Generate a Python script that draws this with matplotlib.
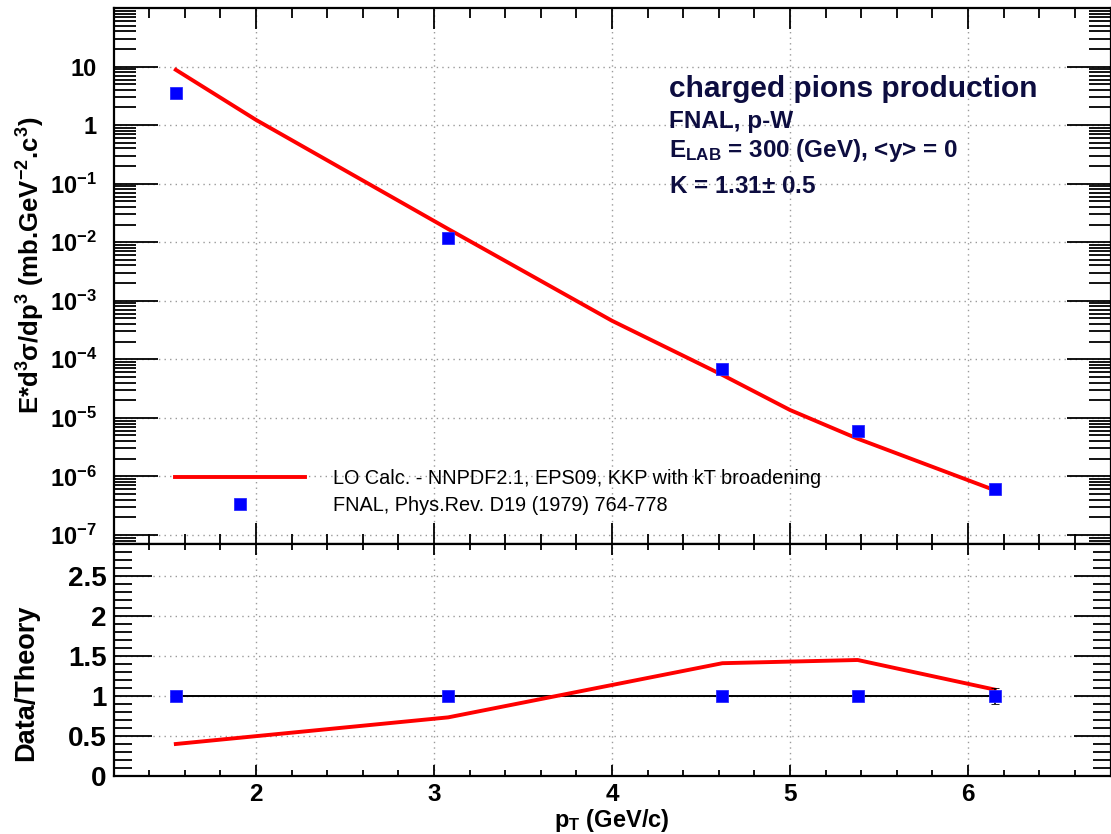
import matplotlib
matplotlib.use("Agg")
import matplotlib.pyplot as plt
from matplotlib.ticker import FixedLocator, LogLocator, MultipleLocator, NullFormatter, FixedFormatter

plt.rcParams['font.family'] = ['Liberation Sans', 'DejaVu Sans']
plt.rcParams['mathtext.fontset'] = 'custom'
plt.rcParams['mathtext.rm'] = 'Liberation Sans:bold'
plt.rcParams['mathtext.bf'] = 'Liberation Sans:bold'
plt.rcParams['mathtext.it'] = 'Liberation Sans:bold:italic'
plt.rcParams['mathtext.default'] = 'rm'

# ---------------- data ----------------
pt_data = [1.55, 3.08, 4.62, 5.38, 6.15]
xsec_data = [3.5, 0.0117, 6.7e-5, 6.0e-6, 6.0e-7]

pt_theory = [1.55, 2.0, 3.08, 4.0, 4.62, 5.0, 5.38, 6.15]
xsec_theory = [8.8, 1.23, 0.0168, 4.55e-4, 5.4e-5, 1.36e-5, 4.4e-6, 5.8e-7]

ratio_theory = [0.40, 0.733, 1.41, 1.45, 1.08]
ratio_data = [1.0, 1.0, 1.0, 1.0, 1.0]
ratio_err = [0.02, 0.02, 0.04, 0.03, 0.095]

ytick_vals = [1e-7, 1e-6, 1e-5, 1e-4, 1e-3, 1e-2, 1e-1, 1, 10]
ytick_labels = [r'$10^{-7}$', r'$10^{-6}$', r'$10^{-5}$', r'$10^{-4}$', r'$10^{-3}$',
                r'$10^{-2}$', r'$10^{-1}$', '1', '10']
rtick_vals = [0, 0.5, 1, 1.5, 2, 2.5]
rtick_labels = ['0', '0.5', '1', '1.5', '2', '2.5']
xtick_vals = [2, 3, 4, 5, 6]
xtick_labels = ['2', '3', '4', '5', '6']

legend_labels = ['LO Calc. - NNPDF2.1, EPS09, KKP with kT broadening',
                 'FNAL, Phys.Rev. D19 (1979) 764-778']

info_title = 'charged pions production'
info_lines = ['FNAL, p-W', r'E$_{LAB}$ = 300 (GeV), <y> = 0', 'K = 1.31$\\pm$ 0.5']

# ---------------- figure ----------------
W, H = 1111, 834
fig = plt.figure(figsize=(W / 100, H / 100), dpi=100)

def fx(px):
    return px / W

def fy(py):
    return 1 - py / H

left, right = 113.5, 1110.5
top1, mid, bot2 = 8, 544, 776
ax1 = fig.add_axes([fx(left), fy(mid), fx(right - left), (mid - top1) / H])
ax2 = fig.add_axes([fx(left), fy(bot2), fx(right - left), (bot2 - mid) / H], sharex=ax1)

RED = '#ff0000'
BLUE = '#0000ff'
NAVY = '#0d0d40'
grid_kw = dict(color='#9a9a9a', linestyle=(0, (1, 3)), linewidth=1.0)

# top panel
ax1.set_yscale('log')
ax1.set_xlim(1.2, 6.8)
ax1.set_ylim(7e-8, 100)
line_th, = ax1.plot(pt_theory, xsec_theory, color=RED, lw=2.8, zorder=3)
pts, = ax1.plot(pt_data, xsec_data, linestyle='none', marker='s', ms=8, color=BLUE,
                mec='#2a2aff', mew=0.6, zorder=4)
ax1.yaxis.set_major_locator(FixedLocator(ytick_vals))
ax1.yaxis.set_major_formatter(FixedFormatter(ytick_labels))
ax1.yaxis.set_minor_locator(LogLocator(base=10, subs=[2, 3, 4, 5, 6, 7, 8, 9], numticks=20))
ax1.yaxis.set_minor_formatter(NullFormatter())
ax1.xaxis.set_major_locator(FixedLocator(xtick_vals))
ax1.xaxis.set_minor_locator(MultipleLocator(0.2))
for v in xtick_vals:
    ax1.axvline(v, zorder=0, **grid_kw)
for v in ytick_vals:
    ax1.axhline(v, zorder=0, **grid_kw)
ax1.tick_params(axis='both', which='both', direction='in', top=True, right=True, width=1.3, colors='black')
ax1.tick_params(axis='y', which='major', length=32, labelsize=17, pad=12)
ax1.tick_params(axis='y', which='minor', length=16)
ax1.tick_params(axis='x', which='major', length=15)
ax1.tick_params(axis='x', which='minor', length=7)
plt.setp(ax1.get_xticklabels(), visible=False)
for lab in ax1.get_yticklabels():
    lab.set_fontweight('bold')
ax1.set_ylabel('E*d$^{3}$σ/dp$^{3}$ (mb.GeV$^{-2}$.c$^{3}$)', fontsize=18.5, fontweight='bold')
ax1.yaxis.set_label_coords((47 - left) / (right - left), (mid - 265) / (mid - top1))

ax1.text(fx(669), fy(96.7), info_title, transform=fig.transFigure, fontsize=21.5,
         fontweight='bold', color=NAVY, ha='left', va='baseline')
for i, t in enumerate(info_lines):
    ax1.text(fx(669), fy([128, 157, 193][i]), t, transform=fig.transFigure, fontsize=17.5,
             fontweight='bold', color=NAVY, ha='left', va='baseline')

leg = ax1.legend([line_th, pts], legend_labels, loc='upper left',
                 bbox_to_anchor=((175 - left) / (right - left), (mid - 468.5) / (mid - top1)),
                 frameon=False, fontsize=14.3, handlelength=6.55, handletextpad=1.42,
                 borderpad=0, borderaxespad=0, labelspacing=0.44, numpoints=1)

# bottom panel
ax2.set_ylim(0, 2.9)
ax2.plot(pt_data, ratio_theory, color=RED, lw=2.8, zorder=3)
ax2.plot(pt_data, ratio_data, color='black', lw=1.4, zorder=2)
ax2.errorbar(pt_data, ratio_data, yerr=ratio_err, fmt='s', ms=8, color=BLUE, mec='#2a2aff',
             mew=0.6, ecolor='black', elinewidth=1.2, capsize=3, zorder=4)
ax2.yaxis.set_major_locator(FixedLocator(rtick_vals))
ax2.yaxis.set_major_formatter(FixedFormatter(rtick_labels))
ax2.yaxis.set_minor_locator(MultipleLocator(0.1))
ax2.xaxis.set_major_locator(FixedLocator(xtick_vals))
ax2.xaxis.set_major_formatter(FixedFormatter(xtick_labels))
ax2.xaxis.set_minor_locator(MultipleLocator(0.2))
for v in xtick_vals:
    ax2.axvline(v, zorder=0, **grid_kw)
for v in rtick_vals[1:]:
    ax2.axhline(v, zorder=0, **grid_kw)
ax2.tick_params(axis='both', which='both', direction='in', top=True, right=True, width=1.3)
ax2.tick_params(axis='y', which='major', length=27, labelsize=20, pad=5)
ax2.tick_params(axis='y', which='minor', length=13)
ax2.tick_params(axis='x', which='major', length=8, labelsize=17.5, pad=5)
ax2.tick_params(axis='x', which='minor', length=4)
for lab in ax2.get_yticklabels() + ax2.get_xticklabels():
    lab.set_fontweight('bold')
ax2.set_ylabel('Data/Theory', fontsize=19.5, fontweight='bold')
ax2.yaxis.set_label_coords((39 - left) / (right - left), (bot2 - 683) / (bot2 - mid))
ax2.set_xlabel('p$_{T}$ (GeV/c)', fontsize=17, fontweight='bold')
ax2.xaxis.set_label_coords((612 - left) / (right - left), -(821 - bot2) / (bot2 - mid))
ax2.xaxis.label.set_va('center')

for ax in (ax1, ax2):
    for s in ax.spines.values():
        s.set_linewidth(1.6)

fig.savefig('out.png', dpi=100)
